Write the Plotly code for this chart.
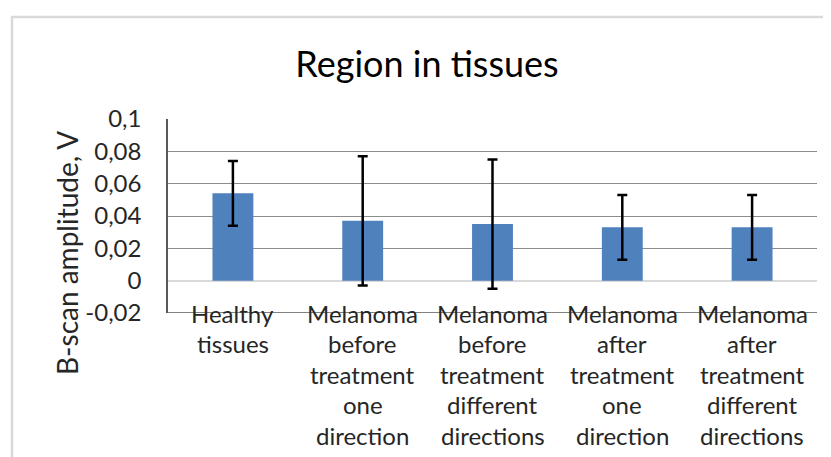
import plotly.graph_objects as go

categories = ["Healthy<br>tissues",
              "Melanoma<br>before<br>treatment<br>one<br>direction",
              "Melanoma<br>before<br>treatment<br>different<br>directions",
              "Melanoma<br>after<br>treatment<br>one<br>direction",
              "Melanoma<br>after<br>treatment<br>different<br>directions"]
amplitude = [0.054, 0.037, 0.035, 0.033, 0.033]
error = [0.020, 0.040, 0.040, 0.020, 0.020]
y_tickvals = [-0.02, 0, 0.02, 0.04, 0.06, 0.08, 0.1]
y_ticktext = ["-0,02", "0", "0,02", "0,04", "0,06", "0,08", "0,1"]

FONT = "Lato"
TXT = "#262626"
OFF = 8  # page body margin
W, H = 831 - OFF, 457 - OFF
L, R, T, B = 168 - OFF, 14, 119 - OFF, 144
pw, ph = W - L - R, H - T - B

fig = go.Figure()
fig.add_trace(go.Bar(
    x=list(range(len(categories))), y=amplitude,
    marker=dict(color="#4F81BD", line=dict(width=0)),
    error_y=dict(type="data", array=error, visible=True,
                 color="black", thickness=2.5, width=5),
))

annotations = []
for i, cat in enumerate(categories):
    for j, line in enumerate(cat.split("<br>")):
        annotations.append(dict(
            x=i, y=0, xref="x", yref="paper", text=line, showarrow=False,
            xanchor="center", yanchor="middle", yshift=0 - j * 30.5,
            font=dict(family=FONT, size=24, color=TXT)))

# y-axis title (Excel places it slightly lower than the plot centre)
annotations.append(dict(
    x=(67 - OFF - L) / pw, y=(313 - 253) / ph, xref="paper", yref="paper",
    text="B-scan amplitude, V", textangle=-90, showarrow=False,
    xanchor="center", yanchor="middle",
    font=dict(family=FONT, size=28, color=TXT)))

fig.update_layout(
    width=W, height=H,
    margin=dict(l=L, r=R, t=T, b=B),
    paper_bgcolor="white", plot_bgcolor="white",
    bargap=0.685,
    showlegend=False,
    title=dict(text="Region in tissues", x=(427 - OFF) / W, xref="container",
               xanchor="center",
               y=1 - (64 - OFF) / H, yanchor="middle",
               font=dict(family=FONT, size=36, color="black")),
    xaxis=dict(range=[-0.5, len(categories) - 0.5], showticklabels=False,
               showgrid=False, zeroline=False, showline=False, ticks=""),
    yaxis=dict(range=[-0.02, 0.1], tickvals=y_tickvals, ticktext=y_ticktext,
               showgrid=True, gridcolor="#8c8c8c", gridwidth=1,
               zeroline=True, zerolinecolor="#d9d9d9", zerolinewidth=1.5,
               showline=True, linecolor="#595959", linewidth=1.5,
               ticks="", ticklabelstandoff=20,
               tickfont=dict(family=FONT, size=24, color=TXT)),
    annotations=annotations,
    shapes=[
        dict(type="line", xref="paper", yref="y", x0=0, x1=1, y0=-0.02, y1=-0.02,
             line=dict(color="#595959", width=1.5), layer="above"),
        dict(type="rect", xref="paper", yref="paper",
             x0=(12 - OFF - L) / pw, x1=(W + 20 - L) / pw,
             y0=-(B + 20) / ph, y1=(ph + T - (17 - OFF)) / ph,
             line=dict(color="#d9d9d9", width=2.5), layer="below"),
    ],
)

fig.write_html("out.html")
